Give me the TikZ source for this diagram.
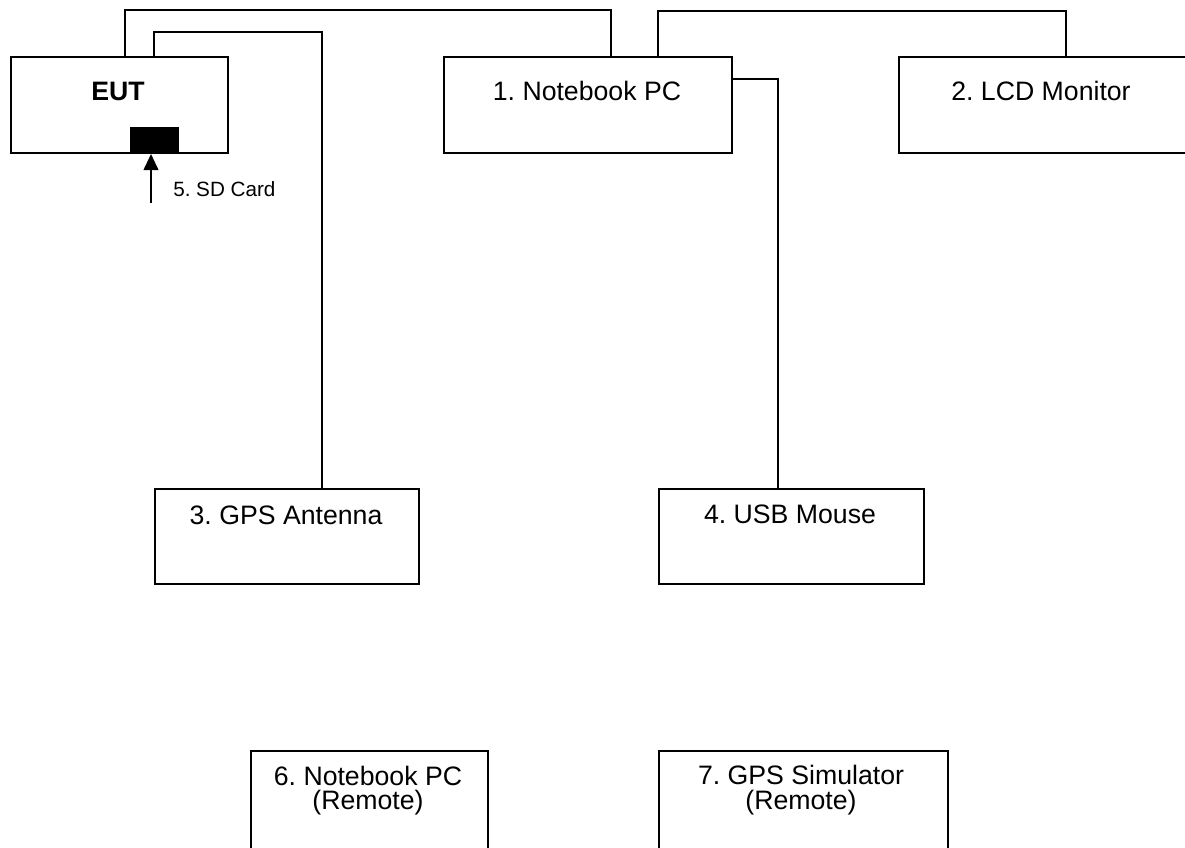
\documentclass[tikz,border=0pt]{standalone}
\usepackage{fontspec}
\setmainfont{Liberation Sans}
\usetikzlibrary{arrows.meta}
\frenchspacing
\begin{document}
\begin{tikzpicture}[x=0.75pt,y=-0.75pt,
  box/.style={draw,line width=1.4pt,inner sep=0pt,anchor=north west},
  wire/.style={line width=1.4pt},
  lbl/.style={anchor=base,inner sep=0pt,font=\fontsize{20}{24}\selectfont},
  lblb/.style={anchor=base,inner sep=0pt,font=\fontsize{20}{24}\selectfont\bfseries},
  small/.style={anchor=base west,inner sep=0pt,font=\fontsize{15.5}{18}\selectfont}]
\useasboundingbox (0,0) rectangle (1185,847);

% boxes
\node[box,minimum width=162.75pt,minimum height=72pt] (eut) at (10,56) {};
\node[box,minimum width=216pt,minimum height=72pt] (nb) at (443,56) {};
\node[box,minimum width=216pt,minimum height=72pt] (lcd) at (898,56) {};
\node[box,minimum width=198pt,minimum height=71.25pt] (gps) at (154,488) {};
\node[box,minimum width=198.75pt,minimum height=71.25pt] (mouse) at (658,488) {};
\node[box,minimum width=177.75pt,minimum height=75pt] (rpc) at (250,750) {};
\node[box,minimum width=216.75pt,minimum height=75pt] (rsim) at (658,750) {};
\node[fill=black,inner sep=0pt,minimum width=36.75pt,minimum height=18.75pt,anchor=south west] (slot) at (130,152) {};

% labels
\node[lblb] (eutt) at (118,100) {EUT};
\node[lbl] (nbt) at (587,100) {1. Notebook PC};
\node[lbl] (lcdt) at (1041,100) {2. LCD Monitor};
\node[lbl] (gpst) at (286,524) {3. GPS Antenna};
\node[lbl] (mouset) at (790,523) {4. USB Mouse};
\node[lbl] (rpct1) at (368,785) {6. Notebook PC};
\node[lbl] (rpct2) at (368,809) {(Remote)};
\node[lbl] (rsimt1) at (801,784) {7. GPS Simulator};
\node[lbl] (rsimt2) at (801,809) {(Remote)};
\node[small] (sdlbl) at (173,196) {5. SD Card};

% SD card arrow
\coordinate (sdtail) at (151,203);
\draw[wire,-{Triangle[width=11pt,length=12pt]},shorten >=1.5pt] (sdtail) -- (sdtail |- slot.south);

% wires
\draw[wire] ([xshift=86.25pt]eut.north west) -- ++(0,-46) -| ([xshift=126pt]nb.north west);
\draw[wire] ([xshift=108pt]eut.north west) -- ++(0,-24) -| ([xshift=126pt]gps.north west);
\draw[wire] ([xshift=161.25pt]nb.north west) -- ++(0,-45) -| ([xshift=126pt]lcd.north west);
\draw[wire] ([yshift=-17.25pt]nb.north east) -| ([xshift=90pt]mouse.north west);
\end{tikzpicture}
\end{document}
